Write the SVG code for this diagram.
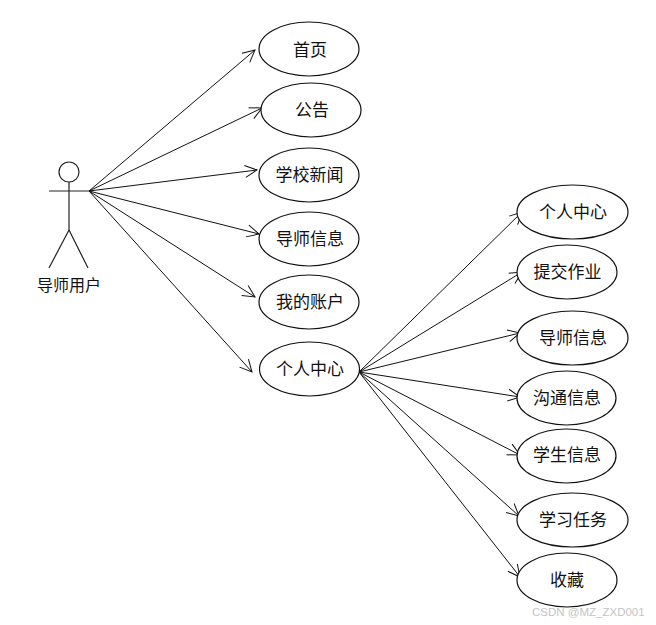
<svg xmlns="http://www.w3.org/2000/svg" width="656" height="625" viewBox="0 0 656 625">
<defs>
<marker id="open" markerUnits="userSpaceOnUse" markerWidth="20" markerHeight="20" refX="13" refY="8" orient="auto" overflow="visible"><path d="M1 2 L13 8 L1 14" fill="none" stroke="#111" stroke-width="1"/></marker>
</defs>
<style>
.n{fill:#fff;stroke:#111;stroke-width:1.2}
.t{font-family:"Noto Sans CJK SC","Noto Sans",sans-serif;font-size:17px;font-weight:400;fill:#111;text-anchor:middle}
.c line{stroke:#111;stroke-width:1;marker-end:url(#open)}
.a{stroke:#222;stroke-width:1.2;fill:none}
</style>
<rect width="656" height="625" fill="#fff"/>
<g id="actor">
<circle class="a" cx="69" cy="172" r="10"/>
<path class="a" d="M69 182V230M49 191H89M69 230L49 268M69 230L88 268"/>
<text class="t" x="69" y="291" style="font-size:16px">导师用户</text>
</g>
<g class="c" id="connectors">
<line x1="89" y1="191" x2="255" y2="50"/>
<line x1="89" y1="191" x2="262" y2="108"/>
<line x1="89" y1="191" x2="257" y2="170"/>
<line x1="89" y1="191" x2="259" y2="234"/>
<line x1="89" y1="191" x2="255" y2="297"/>
<line x1="89" y1="191" x2="252" y2="372"/>
<line x1="359" y1="372" x2="522" y2="212"/>
<line x1="359" y1="372" x2="522" y2="272"/>
<line x1="359" y1="372" x2="520" y2="333"/>
<line x1="359" y1="372" x2="520" y2="397"/>
<line x1="359" y1="372" x2="520" y2="455"/>
<line x1="359" y1="372" x2="519" y2="516"/>
<line x1="359" y1="372" x2="520" y2="577"/>
</g>
<g id="n1"><ellipse class="n" cx="309" cy="49" rx="50" ry="27"/><text class="t" x="310" y="56">首页</text></g>
<g id="n2"><ellipse class="n" cx="311" cy="110" rx="50" ry="27"/><text class="t" x="312" y="116">公告</text></g>
<g id="n3"><ellipse class="n" cx="309" cy="175" rx="50" ry="27"/><text class="t" x="309.500" y="181">学校新闻</text></g>
<g id="n4"><ellipse class="n" cx="309" cy="239" rx="50" ry="27"/><text class="t" x="310" y="245">导师信息</text></g>
<g id="n5"><ellipse class="n" cx="309" cy="302" rx="50" ry="27"/><text class="t" x="310" y="308">我的账户</text></g>
<g id="n6"><ellipse class="n" cx="309.500" cy="369" rx="50" ry="27"/><text class="t" x="310" y="375">个人中心</text></g>
<g id="r1"><ellipse class="n" cx="572.500" cy="212" rx="55.500" ry="27"/><text class="t" x="573" y="218">个人中心</text></g>
<g id="r2"><ellipse class="n" cx="567" cy="272" rx="50" ry="27"/><text class="t" x="567.500" y="278">提交作业</text></g>
<g id="r3"><ellipse class="n" cx="572.500" cy="338" rx="55.500" ry="27"/><text class="t" x="573" y="344">导师信息</text></g>
<g id="r4"><ellipse class="n" cx="566.500" cy="398" rx="49.500" ry="27"/><text class="t" x="567" y="404">沟通信息</text></g>
<g id="r5"><ellipse class="n" cx="566.500" cy="456" rx="49.500" ry="27"/><text class="t" x="567" y="461">学生信息</text></g>
<g id="r6"><ellipse class="n" cx="572.500" cy="520" rx="55.500" ry="27"/><text class="t" x="573" y="526">学习任务</text></g>
<g id="r7"><ellipse class="n" cx="567" cy="580" rx="50" ry="27"/><text class="t" x="567" y="586">收藏</text></g>
<text x="532" y="616" style="font-family:'Liberation Sans',sans-serif;font-size:11.500px;fill:#c4c4c4">CSDN @MZ_ZXD001</text>
</svg>
